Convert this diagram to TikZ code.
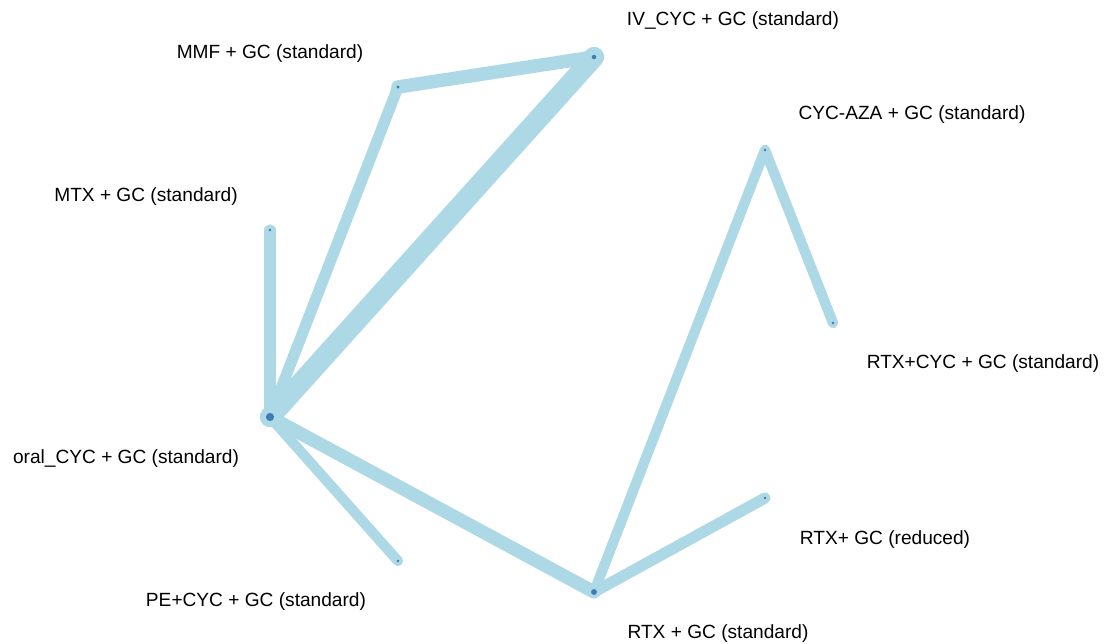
\documentclass[tikz,border=0pt]{standalone}
\usepackage{fontspec}
\setmainfont{Liberation Sans}
\definecolor{edgeblue}{HTML}{ADD8E6}
\definecolor{dotblue}{HTML}{3F7BB5}

\begin{document}
\begin{tikzpicture}[x=0.025cm, y=-0.025cm, line cap=round,
  edge/.style={draw=edgeblue},
  lbl/.style={font=\fontsize{13.6}{16}\selectfont, inner sep=0pt}]
  % Frame (image size in pixels)
  \useasboundingbox (0,0) rectangle (1106,644);

  % Treatment positions
  \coordinate (ivcyc)   at (594,57);
  \coordinate (mmf)     at (398,87);
  \coordinate (cycaza)  at (765,150);
  \coordinate (mtx)     at (270,230);
  \coordinate (rtxcyc)  at (833,323);
  \coordinate (oralcyc) at (270,417);
  \coordinate (rtxred)  at (765,498);
  \coordinate (pecyc)   at (398,561);
  \coordinate (rtxstd)  at (594,592);

  % Comparisons (width = number of studies)
  \draw[edge, line width=14.5pt] (ivcyc) -- (oralcyc);
  \draw[edge, line width=9.6pt] (mmf) -- (ivcyc);
  \draw[edge, line width=8pt] (mmf) -- (oralcyc);
  \draw[edge, line width=8pt] (mtx) -- (oralcyc);
  \draw[edge, line width=7.3pt] (oralcyc) -- (pecyc);
  \draw[edge, line width=9.4pt] (oralcyc) -- (rtxstd);
  \draw[edge, line width=7.3pt] (rtxstd) -- (cycaza);
  \draw[edge, line width=7.3pt] (cycaza) -- (rtxcyc);
  \draw[edge, line width=8pt] (rtxstd) -- (rtxred);

  % Node points
  \fill[dotblue] (oralcyc) circle (2.9pt);
  \fill[dotblue] (ivcyc) circle (1.6pt);
  \fill[dotblue] (rtxstd) circle (2.1pt);
  \fill[dotblue] (mmf) circle (1.1pt);
  \foreach \p in {mtx, cycaza, rtxcyc, rtxred, pecyc}
    \fill[dotblue] (\p) circle (0.9pt);

  % Labels
  \node[lbl] (ivcyc-l)   at (733,21)  {IV\_CYC + GC (standard)};
  \node[lbl] (mmf-l)     at (270,54)  {MMF + GC (standard)};
  \node[lbl] (cycaza-l)  at (912,115) {CYC-AZA + GC (standard)};
  \node[lbl] (mtx-l)     at (146,197) {MTX + GC (standard)};
  \node[lbl] (rtxcyc-l)  at (983,364) {RTX+CYC + GC (standard)};
  \node[lbl] (oralcyc-l) at (126,459) {oral\_CYC + GC (standard)};
  \node[lbl] (rtxred-l)  at (885,540) {RTX+ GC (reduced)};
  \node[lbl] (pecyc-l)   at (256,602) {PE+CYC + GC (standard)};
  \node[lbl] (rtxstd-l)  at (718,634) {RTX + GC (standard)};
\end{tikzpicture}
\end{document}
